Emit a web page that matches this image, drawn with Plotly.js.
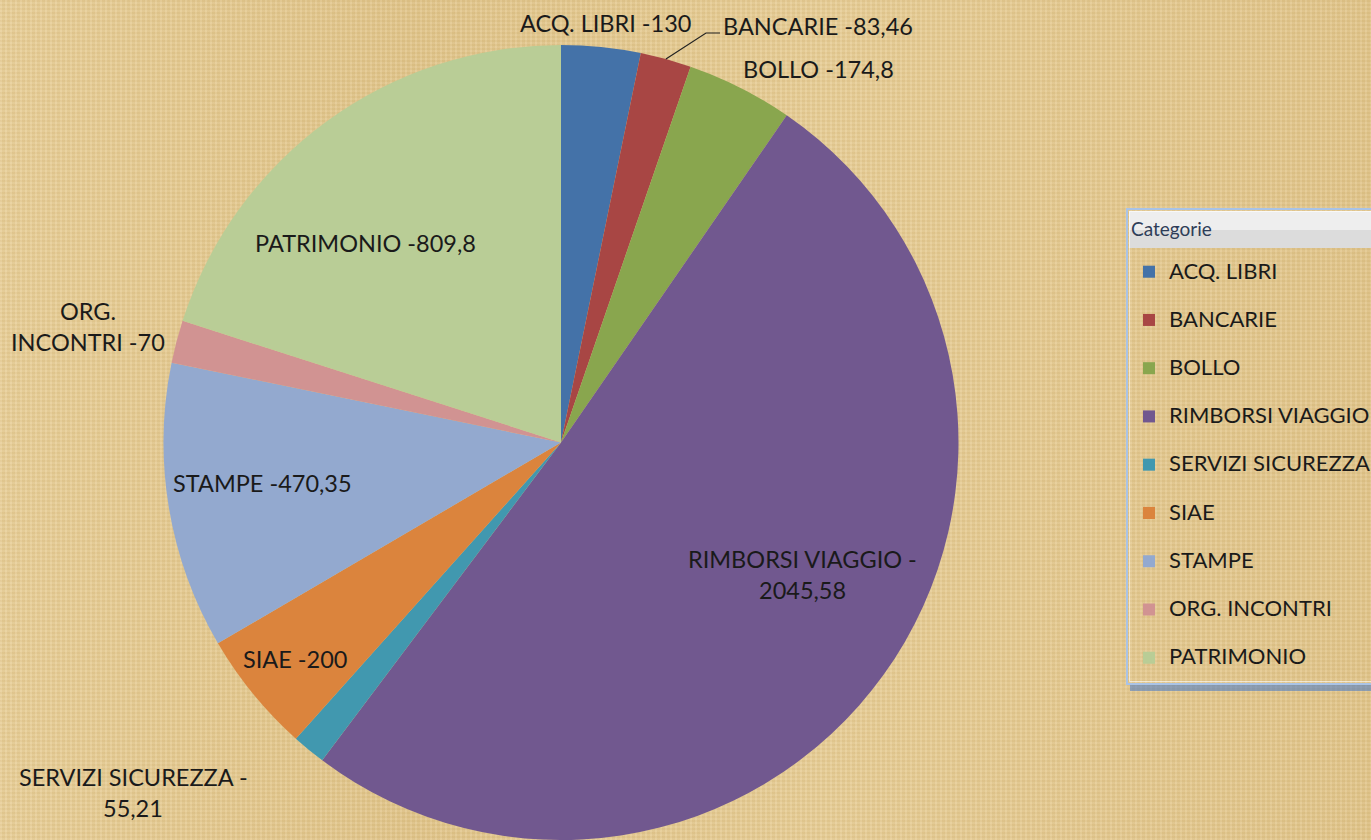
<!DOCTYPE html>
<html><head><meta charset="utf-8">
<script src="https://cdn.plot.ly/plotly-3.0.1.min.js"></script>
<style>
html,body{margin:0;padding:0;}
body{width:1371px;height:840px;overflow:hidden;
 background-color:#e4c88e;
 background-image:
  repeating-linear-gradient(90deg, rgba(255,255,255,0.07) 0px, rgba(255,255,255,0.07) 2px, rgba(120,90,30,0.04) 2px, rgba(120,90,30,0.04) 5px),
  repeating-linear-gradient(0deg, rgba(255,255,255,0.06) 0px, rgba(255,255,255,0.06) 2px, rgba(120,90,30,0.035) 2px, rgba(120,90,30,0.035) 4px),
  linear-gradient(90deg, rgba(255,240,200,0.15), rgba(200,170,100,0.1) 30%, rgba(255,240,200,0.12) 60%, rgba(200,170,100,0.1));
}
#chart{width:1371px;height:840px;}
</style></head><body><div id="chart"></div>
<script>
// ---- data ----
const categories = ['ACQ. LIBRI','BANCARIE','BOLLO','RIMBORSI VIAGGIO','SERVIZI SICUREZZA','SIAE','STAMPE','ORG. INCONTRI','PATRIMONIO'];
const values = [130, 83.46, 174.8, 2045.58, 55.21, 200, 470.35, 70, 809.8];
const colors = ['#4472a8','#a84644','#89a64e','#71588f','#4198af','#db843d','#93a9cf','#d19392','#b9cd96'];
const legendTitle = 'Categorie';

// ---- layout helpers (pixel positions of the data labels) ----
const W = 1371, H = 840;
const FONT = 'Lato, "Open Sans", sans-serif';
const labelLayout = [
  {x:605, y:23, br:null},
  {x:818, y:26, br:null},
  {x:818, y:69, br:null},
  {x:802, y:574, br:'value'},
  {x:133, y:792, br:'value'},
  {x:295, y:659, br:null},
  {x:262, y:483, br:null},
  {x:88,  y:326, br:'name'},
  {x:365, y:243, br:null}
];
const fmt = v => String(v).replace('.', ',');
const px = x => x / W, py = y => 1 - y / H;

const annotations = [];
categories.forEach((c, i) => {
  const L = labelLayout[i];
  let lines;
  if (L.br === 'value') lines = [c + ' -', fmt(values[i])];
  else if (L.br === 'name') { const k = c.indexOf(' '); lines = [c.slice(0, k), c.slice(k + 1) + ' -' + fmt(values[i])]; }
  else lines = [c + ' -' + fmt(values[i])];
  const gap = 31;
  lines.forEach((t, j) => {
    const y = L.y + (j - (lines.length - 1) / 2) * gap;
    annotations.push({xref:'paper', yref:'paper', x:px(L.x), y:py(y), xanchor:'center', yanchor:'middle',
      text:t, showarrow:false, font:{family:FONT, size:23.5, color:'#1a1a1a'}});
  });
});

// pie geometry
const cx = 561, cyTop = 45, R = 397.5;
const total = values.reduce((a, b) => a + b, 0);
let cum = 0;
const mids = values.map(v => { const m = (cum + v / 2) / total * 2 * Math.PI; cum += v; return m; });
// leader line for BANCARIE
const a = mids[1];
const ex = cx + R * Math.sin(a), ey = (cyTop + R) - R * Math.cos(a);
const leader = `M ${px(ex)},${py(ey)} L ${px(706)},${py(33)} L ${px(720)},${py(33)}`;

const shapes = [
  {type:'path', xref:'paper', yref:'paper', path:leader, line:{color:'#222', width:1.2}},
  // legend header band
  {type:'rect', xref:'paper', yref:'paper', x0:px(1129), x1:1, y0:py(248), y1:py(211), fillcolor:'#dcdcdc', line:{width:0}},
  {type:'rect', xref:'paper', yref:'paper', x0:px(1129), x1:1, y0:py(230), y1:py(211), fillcolor:'#eeeeee', line:{width:0}},
  // legend bottom shadow
  {type:'rect', xref:'paper', yref:'paper', x0:px(1130), x1:1, y0:py(691), y1:py(684), fillcolor:'rgba(70,120,200,0.55)', line:{width:0}},
  // legend frame
  {type:'rect', xref:'paper', yref:'paper', x0:px(1127), x1:px(1380), y0:py(684), y1:py(209), fillcolor:'rgba(0,0,0,0)', line:{color:'#a9c3e6', width:2}},
  {type:'rect', xref:'paper', yref:'paper', x0:px(1129.5), x1:px(1380), y0:py(681.5), y1:py(211.5), fillcolor:'rgba(0,0,0,0)', line:{color:'rgba(255,255,255,0.6)', width:1}}
];

const legendLabels = categories.map(c => '<span style="font-size:22px">' + c + '</span><br>\u00a0');

const trace = {
  type:'pie', labels:legendLabels, values:values, text:categories,
  sort:false, direction:'clockwise', rotation:0,
  marker:{colors:colors, line:{width:0}},
  textinfo:'none', hoverinfo:'text+value',
  domain:{x:[(cx - R) / W, (cx + R) / W], y:[0, 1 - cyTop / H]},
  showlegend:true
};

const layout = {
  width:W, height:H,
  margin:{l:0, r:0, t:0, b:0, autoexpand:false},
  paper_bgcolor:'rgba(0,0,0,0)', plot_bgcolor:'rgba(0,0,0,0)',
  font:{family:FONT, color:'#1a1a1a'},
  annotations:annotations,
  shapes:shapes,
  legend:{
    xref:'paper', yref:'paper',
    x:1127 / W, y:1 - 215.5 / H, xanchor:'left', yanchor:'top',
    bgcolor:'rgba(0,0,0,0)', bordercolor:'rgba(0,0,0,0)', borderwidth:2,
    font:{family:FONT, size:17.4, color:'#1a1a1a'},
    valign:'top',
    title:{text:'<span style="font-size:19px">' + legendTitle + '</span><br>\u00a0', font:{family:FONT, size:14, color:'#2e3d58'}, side:'top'}
  }
};

Plotly.newPlot('chart', [trace], layout, {displayModeBar:false, staticPlot:true});
</script></body></html>
